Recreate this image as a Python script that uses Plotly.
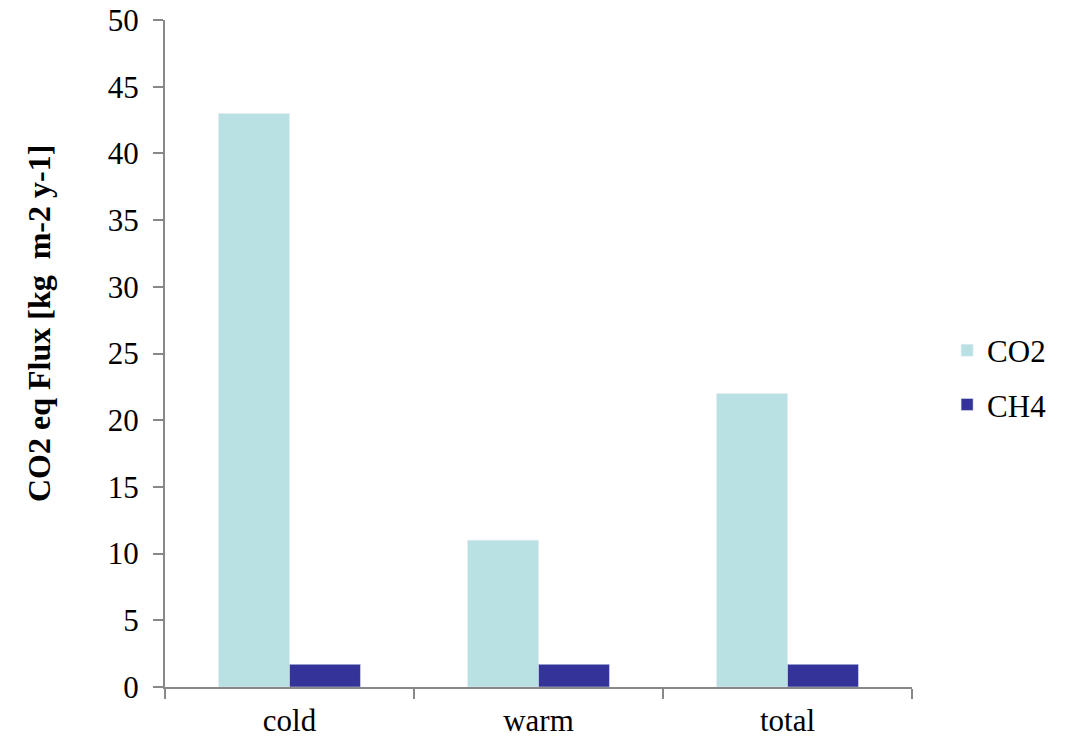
import plotly.graph_objects as go

categories = ["cold", "warm", "total"]
co2 = [43, 11, 22]
ch4 = [1.7, 1.7, 1.7]
y_ticks = [0, 5, 10, 15, 20, 25, 30, 35, 40, 45, 50]

FONT = "Liberation Serif, Times New Roman, serif"
fig = go.Figure()
fig.add_trace(go.Bar(x=categories, y=co2, name="CO2", marker_color="#B9E0E3",
                     legendgroup="a"))
fig.add_trace(go.Bar(x=categories, y=ch4, name="CH4", marker_color="#333399",
                     legendgroup="b"))

fig.update_layout(
    width=1068, height=739,
    margin=dict(l=165, r=156, t=20, b=52, autoexpand=False),
    plot_bgcolor="white", paper_bgcolor="white",
    barmode="group", bargap=0.43, bargroupgap=0,
    font=dict(family=FONT, size=31, color="black"),
    showlegend=True,
    legend=dict(x=1.047, y=0.464, xanchor="left", yanchor="middle",
                font=dict(size=31), tracegroupgap=11, bgcolor="rgba(0,0,0,0)"),
    xaxis=dict(showline=True, linecolor="#888888", linewidth=2,
               ticks="outside", ticklen=10, tickcolor="#888888", tickwidth=2,
               tickson="boundaries", showgrid=False, zeroline=False,
               automargin=False, tickfont=dict(size=31), ticklabelstandoff=5,
               ticklabeloverflow="allow"),
    yaxis=dict(range=[0, 50], tickvals=y_ticks, showline=True, linecolor="#888888",
               linewidth=2, ticks="outside", ticklen=10, tickcolor="#888888", tickwidth=2,
               showgrid=False, zeroline=False, automargin=False,
               tickfont=dict(size=31), ticklabelstandoff=8,
               ticklabeloverflow="allow"),
)
fig.add_annotation(text="<b>CO2 eq Flux [kg  m-2 y-1]</b>", textangle=-90,
                   xref="paper", yref="paper", x=-0.168, y=0.545,
                   xanchor="center", yanchor="middle", showarrow=False,
                   font=dict(size=32, family=FONT))
fig.write_html("out.html", config={"displayModeBar": False},
               post_script="document.body.style.margin='0';document.body.style.overflow='hidden';")
